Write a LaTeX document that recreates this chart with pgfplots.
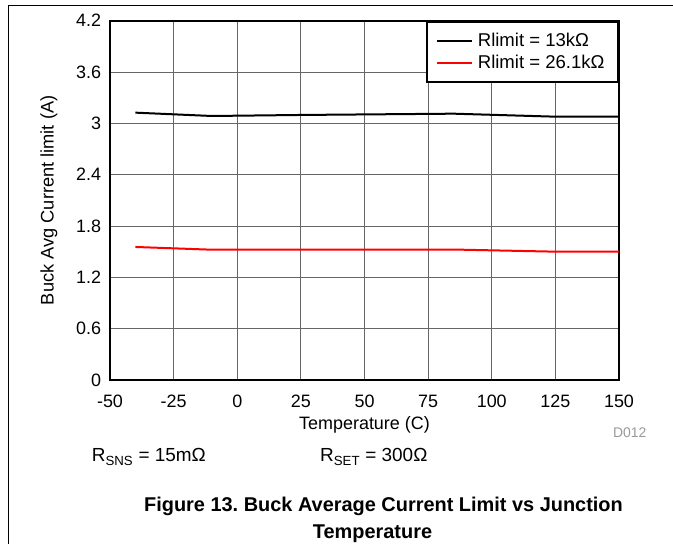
\documentclass[border=0pt]{standalone}
\usepackage{fontspec}
\setmainfont{Liberation Sans}
\usepackage{pgfplots}
\pgfplotsset{compat=1.18}
\definecolor{dgray}{gray}{0.4}
\definecolor{lgray}{gray}{0.6}

\pgfplotstableread{
T     I
-40   3.125
-10   3.086
25    3.098
85    3.113
125   3.078
150   3.078
}\rthirteen

\pgfplotstableread{
T     I
-40   1.555
-10   1.523
25    1.525
85    1.525
125   1.500
150   1.500
}\rtwentysix

\begin{document}
\frenchspacing
\begin{tikzpicture}[x=1bp,y=1bp]
\useasboundingbox (0,0) rectangle (673,544);
\draw[line width=1bp] (8,-2) -- (8,538.7) -- (675,538.7);
\begin{axis}[
    at={(110bp,164bp)}, anchor=south west,
    width=509bp, height=359.3bp, scale only axis,
    xmin=-50, xmax=150, ymin=0, ymax=4.2,
    xtick={-50,-25,...,150},
    ytick={0,0.6,1.2,1.8,2.4,3,3.6,4.2},
    yticklabels={0,0.6,1.2,1.8,2.4,3,3.6,4.2},
    major tick length=0pt,
    grid=major,
    major grid style={dgray, line width=0.9bp},
    axis line style={line width=2bp},
    /pgf/number format/assume math mode=true,
    ticklabel style={font=\fontsize{18}{20}\selectfont},
    xticklabel style={anchor=base, yshift=-28bp},
    yticklabel style={xshift=-5.5bp},
    xlabel={Temperature (C)},
    xlabel style={at={(axis description cs:0.5,-0.139)}, anchor=base, font=\fontsize{18}{20}\selectfont},
    ylabel={Buck Avg Current limit (A)},
    ylabel style={at={(axis description cs:-0.12,0.5)}, anchor=center, font=\fontsize{18.3}{20}\selectfont},
    legend style={at={(1,1)}, anchor=north east, draw=black, line width=2bp,
        font=\fontsize{18.6}{20}\selectfont, inner xsep=8.5bp, inner ysep=10.5bp,
        row sep=3bp, cells={anchor=west},
        nodes={inner ysep=1.5bp, inner xsep=5bp, text height=13.3bp, text depth=2bp}},
    legend image code/.code={\draw[#1, line width=2bp] (0bp,0bp) -- (35bp,0bp);},
]
\addplot[black, line width=2bp] table[x=T, y=I] {\rthirteen};
\addlegendentry{Rlimit = 13kΩ}
\addplot[red, line width=2bp] table[x=T, y=I] {\rtwentysix};
\addlegendentry{Rlimit = 26.1kΩ}
\end{axis}
\node[anchor=base east, text=lgray, font=\fontsize{14}{16}\selectfont, inner sep=0] at (646.7,106) {D012};
\node[anchor=base west, font=\fontsize{19}{21}\selectfont, inner sep=0] at (91.7,82.3) {R\textsubscript{SNS} = 15mΩ};
\node[anchor=base west, font=\fontsize{19}{21}\selectfont, inner sep=0] at (320,82) {R\textsubscript{SET} = 300Ω};
\node[anchor=base, font=\bfseries\fontsize{20}{24}\selectfont, inner sep=0] at (383.5,32.3) {Figure 13. Buck Average Current Limit vs Junction};
\node[anchor=base, font=\bfseries\fontsize{20}{24}\selectfont, inner sep=0] at (372.5,5.7) {Temperature};
\end{tikzpicture}
\end{document}
